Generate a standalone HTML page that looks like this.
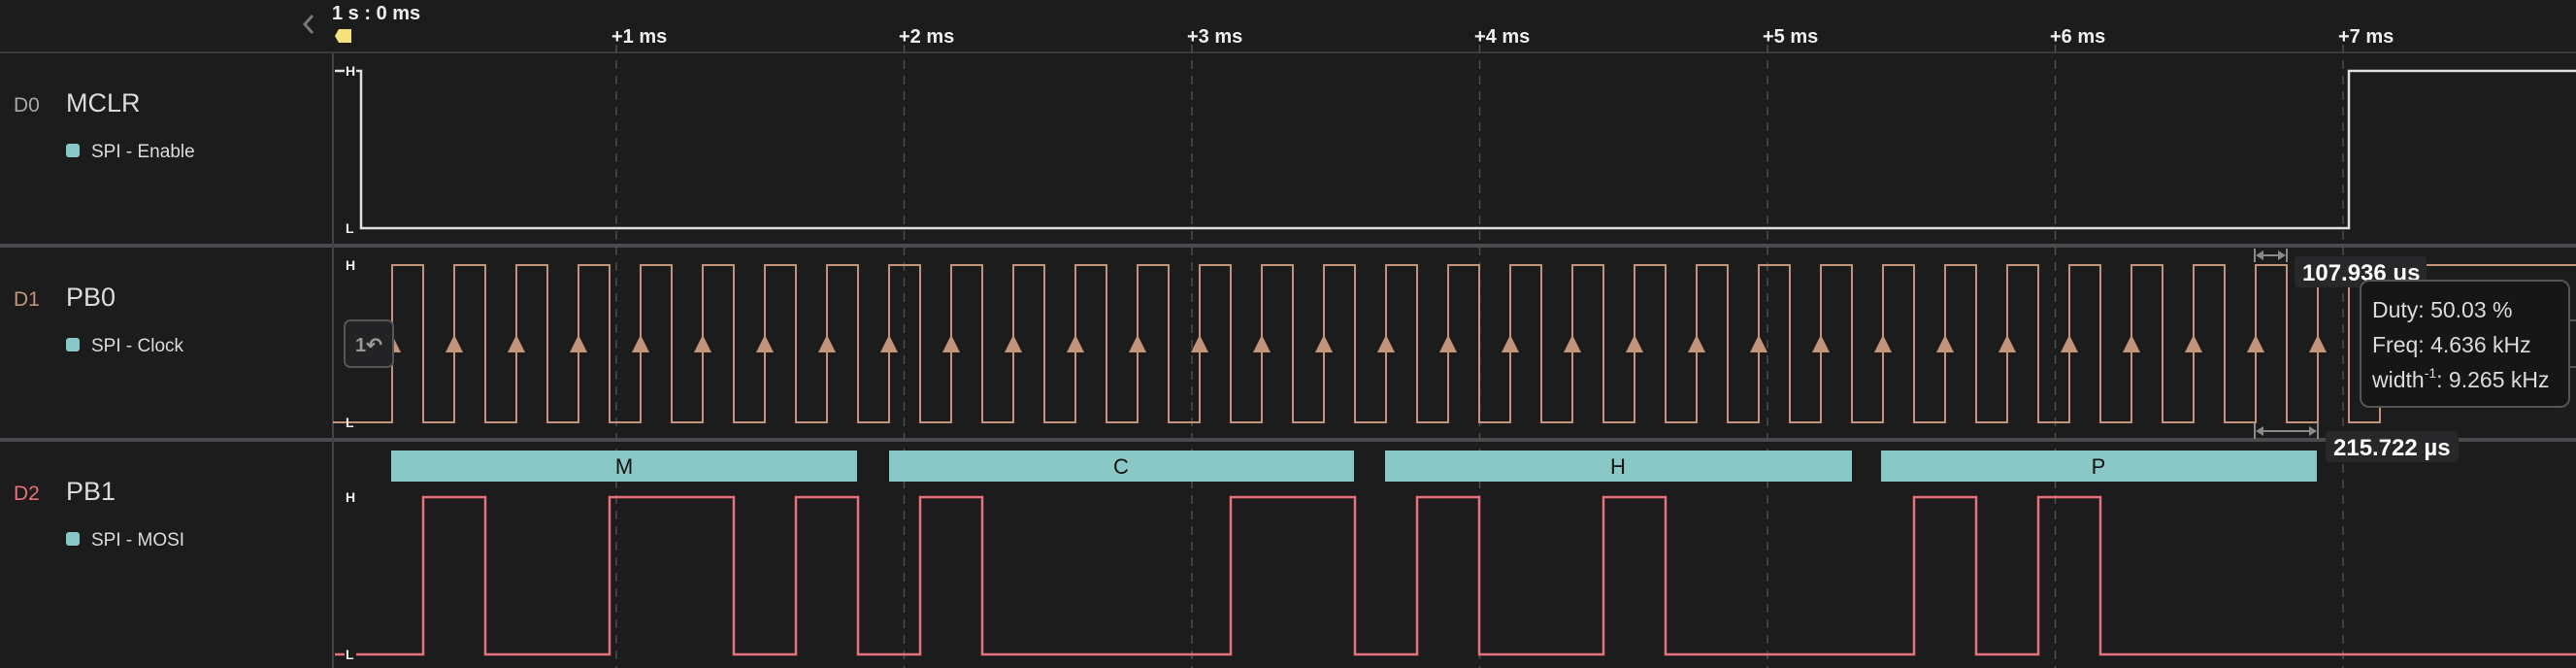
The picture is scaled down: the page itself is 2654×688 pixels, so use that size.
<!DOCTYPE html>
<html><head><meta charset="utf-8"><style>
html,body{margin:0;padding:0;background:#1c1c1c;}
body{width:2654px;height:688px;overflow:hidden;position:relative;font-family:"Liberation Sans",sans-serif;}
</style></head><body>
<svg width="2654" height="688" viewBox="0 0 2654 688" xmlns="http://www.w3.org/2000/svg" style="position:absolute;left:0;top:0">
<defs>
<pattern id="tri" x="386" y="344" width="64" height="20" patternUnits="userSpaceOnUse">
<path d="M18,1 L27,19 L9,19 Z" fill="#c4947a"/>
</pattern>
</defs>
<rect width="2654" height="688" fill="#1c1c1c"/>
<!-- header line and dividers -->
<rect x="0" y="53" width="2654" height="2" fill="#3a3a3e"/>
<rect x="0" y="251" width="2654" height="4" fill="#4a4a4f"/>
<rect x="0" y="451" width="2654" height="4" fill="#4a4a4f"/>
<rect x="342" y="55" width="2" height="633" fill="#444448"/>
<!-- grid lines -->
<g stroke="#4d4d50" stroke-width="1.5" stroke-dasharray="9 7">
<line x1="635" y1="46" x2="635" y2="688"/>
<line x1="931.5" y1="46" x2="931.5" y2="688"/>
<line x1="1228" y1="46" x2="1228" y2="688"/>
<line x1="1524.5" y1="46" x2="1524.5" y2="688"/>
<line x1="1821" y1="46" x2="1821" y2="688"/>
<line x1="2117.5" y1="46" x2="2117.5" y2="688"/>
<line x1="2414" y1="46" x2="2414" y2="688"/>
</g>
<!-- time labels -->
<g fill="#f0f0f0" font-weight="bold" font-size="20" font-family="Liberation Sans, sans-serif">
<text x="630" y="44">+1 ms</text>
<text x="926" y="44">+2 ms</text>
<text x="1223" y="44">+3 ms</text>
<text x="1519" y="44">+4 ms</text>
<text x="1816" y="44">+5 ms</text>
<text x="2112" y="44">+6 ms</text>
<text x="2409" y="44">+7 ms</text>
<text x="342" y="20">1 s : 0 ms</text>
</g>
<path d="M322,16 L314,25 L322,34" fill="none" stroke="#777" stroke-width="3"/>
<path d="M349,30 H362 V44 H349 L345,37 Z" fill="#f5e27a"/>
<!-- MCLR -->
<path d="M345,73 H372 V235 H2420 V73 H2654" fill="none" stroke="#e0e0e0" stroke-width="2.5"/>
<!-- Clock -->
<path d="M343,435 H404 v-162 h32 v162 h32 v-162 h32 v162 h32 v-162 h32 v162 h32 v-162 h32 v162 h32 v-162 h32 v162 h32 v-162 h32 v162 h32 v-162 h32 v162 h32 v-162 h32 v162 h32 v-162 h32 v162 h32 v-162 h32 v162 h32 v-162 h32 v162 h32 v-162 h32 v162 h32 v-162 h32 v162 h32 v-162 h32 v162 h32 v-162 h32 v162 h32 v-162 h32 v162 h32 v-162 h32 v162 h32 v-162 h32 v162 h32 v-162 h32 v162 h32 v-162 h32 v162 h32 v-162 h32 v162 h32 v-162 h32 v162 h32 v-162 h32 v162 h32 v-162 h32 v162 h32 v-162 h32 v162 h32 v-162 h32 v162 h32 v-162 h32 v162 h32 v-162 h32 v162 h32 v-162 h32 v162 h32 v-162 h32 v162 h32 v-162 h32 v162 h32 v-162 h32 v162 h32 v-162 H2654" fill="none" stroke="#c4947a" stroke-width="2"/>
<rect x="386" y="344" width="2048" height="20" fill="url(#tri)"/>
<!-- MOSI -->
<path d="M345,674 H436 V512 H500 V674 H628 V512 H756 V674 H820 V512 H884 V674 H948 V512 H1012 V674 H1268 V512 H1396 V674 H1460 V512 H1524 V674 H1652 V512 H1716 V674 H1972 V512 H2036 V674 H2100 V512 H2164 V674 H2654" fill="none" stroke="#e8707a" stroke-width="2.5"/>
<!-- bars -->
<g fill="#8ac8c8">
<rect x="403" y="464" width="480" height="32"/>
<rect x="916" y="464" width="479" height="32"/>
<rect x="1427" y="464" width="481" height="32"/>
<rect x="1938" y="464" width="449" height="32"/>
</g>
<g fill="#111" font-size="22" text-anchor="middle">
<text x="643" y="488">M</text>
<text x="1155" y="488">C</text>
<text x="1667" y="488">H</text>
<text x="2162" y="488">P</text>
</g>
<!-- H/L labels -->
<g fill="#f0f0f0" font-weight="bold" font-size="14">
<rect x="355" y="65" width="12" height="16" fill="#1c1c1c"/>
<text x="356" y="78">H</text><text x="356" y="240">L</text>
<text x="356" y="278">H</text><text x="356" y="440">L</text>
<text x="356" y="517">H</text>
<rect x="355" y="666" width="12" height="16" fill="#1c1c1c"/>
<text x="356" y="679">L</text>
</g>
<!-- undo button -->
<rect x="355" y="330" width="50" height="48" rx="6" fill="#232325" stroke="#555" stroke-width="2"/>
<text x="380" y="362" fill="#999" font-size="20" font-weight="bold" text-anchor="middle">1↶</text>
<!-- left labels -->
<g font-family="Liberation Sans, sans-serif">
<text x="14" y="115" fill="#a8a8a8" font-size="21">D0</text>
<text x="68" y="115" fill="#dcdcdc" font-size="27">MCLR</text>
<rect x="68" y="148" width="14" height="14" rx="3" fill="#8ac8c8"/>
<text x="94" y="162" fill="#dcdcdc" font-size="19">SPI - Enable</text>
<text x="14" y="315" fill="#c4947a" font-size="21">D1</text>
<text x="68" y="315" fill="#dcdcdc" font-size="27">PB0</text>
<rect x="68" y="348" width="14" height="14" rx="3" fill="#8ac8c8"/>
<text x="94" y="362" fill="#dcdcdc" font-size="19">SPI - Clock</text>
<text x="14" y="515" fill="#e8707a" font-size="21">D2</text>
<text x="68" y="515" fill="#dcdcdc" font-size="27">PB1</text>
<rect x="68" y="548" width="14" height="14" rx="3" fill="#8ac8c8"/>
<text x="94" y="562" fill="#dcdcdc" font-size="19">SPI - MOSI</text>
</g>
<!-- measurements -->
<g stroke="#8a8a8a" stroke-width="2" fill="#8a8a8a">
<line x1="2323" y1="256" x2="2323" y2="270"/><line x1="2356" y1="256" x2="2356" y2="270"/>
<line x1="2328" y1="263" x2="2351" y2="263"/>
<path d="M2324,263 l8,-5 v10 Z M2355,263 l-8,-5 v10 Z" stroke="none"/>
<line x1="2323" y1="436" x2="2323" y2="452"/><line x1="2388" y1="436" x2="2388" y2="452"/>
<line x1="2328" y1="444" x2="2383" y2="444"/>
<path d="M2324,444 l8,-5 v10 Z M2387,444 l-8,-5 v10 Z" stroke="none"/>
</g>
<rect x="2364" y="264" width="136" height="32" rx="4" fill="#28282a"/>
<text x="2372" y="289" fill="#fff" font-size="24" font-weight="bold">107.936 us</text>
<rect x="2396" y="444" width="137" height="32" rx="4" fill="#28282a"/>
<text x="2404" y="469" fill="#fff" font-size="24" font-weight="bold">215.722 µs</text>
<rect x="2645" y="330" width="20" height="48" rx="4" fill="#1a1a1a" stroke="#555" stroke-width="2"/>
<rect x="2432" y="289" width="215" height="130" rx="9" fill="#161616" stroke="#555" stroke-width="2"/>
<g fill="#dcdcdc" font-size="23">
<text x="2444" y="327">Duty: 50.03 %</text>
<text x="2444" y="363">Freq: 4.636 kHz</text>
<text x="2444" y="399">width<tspan font-size="14" dy="-10">-1</tspan><tspan dy="10">: 9.265 kHz</tspan></text>
</g>
</svg>
</body></html>
